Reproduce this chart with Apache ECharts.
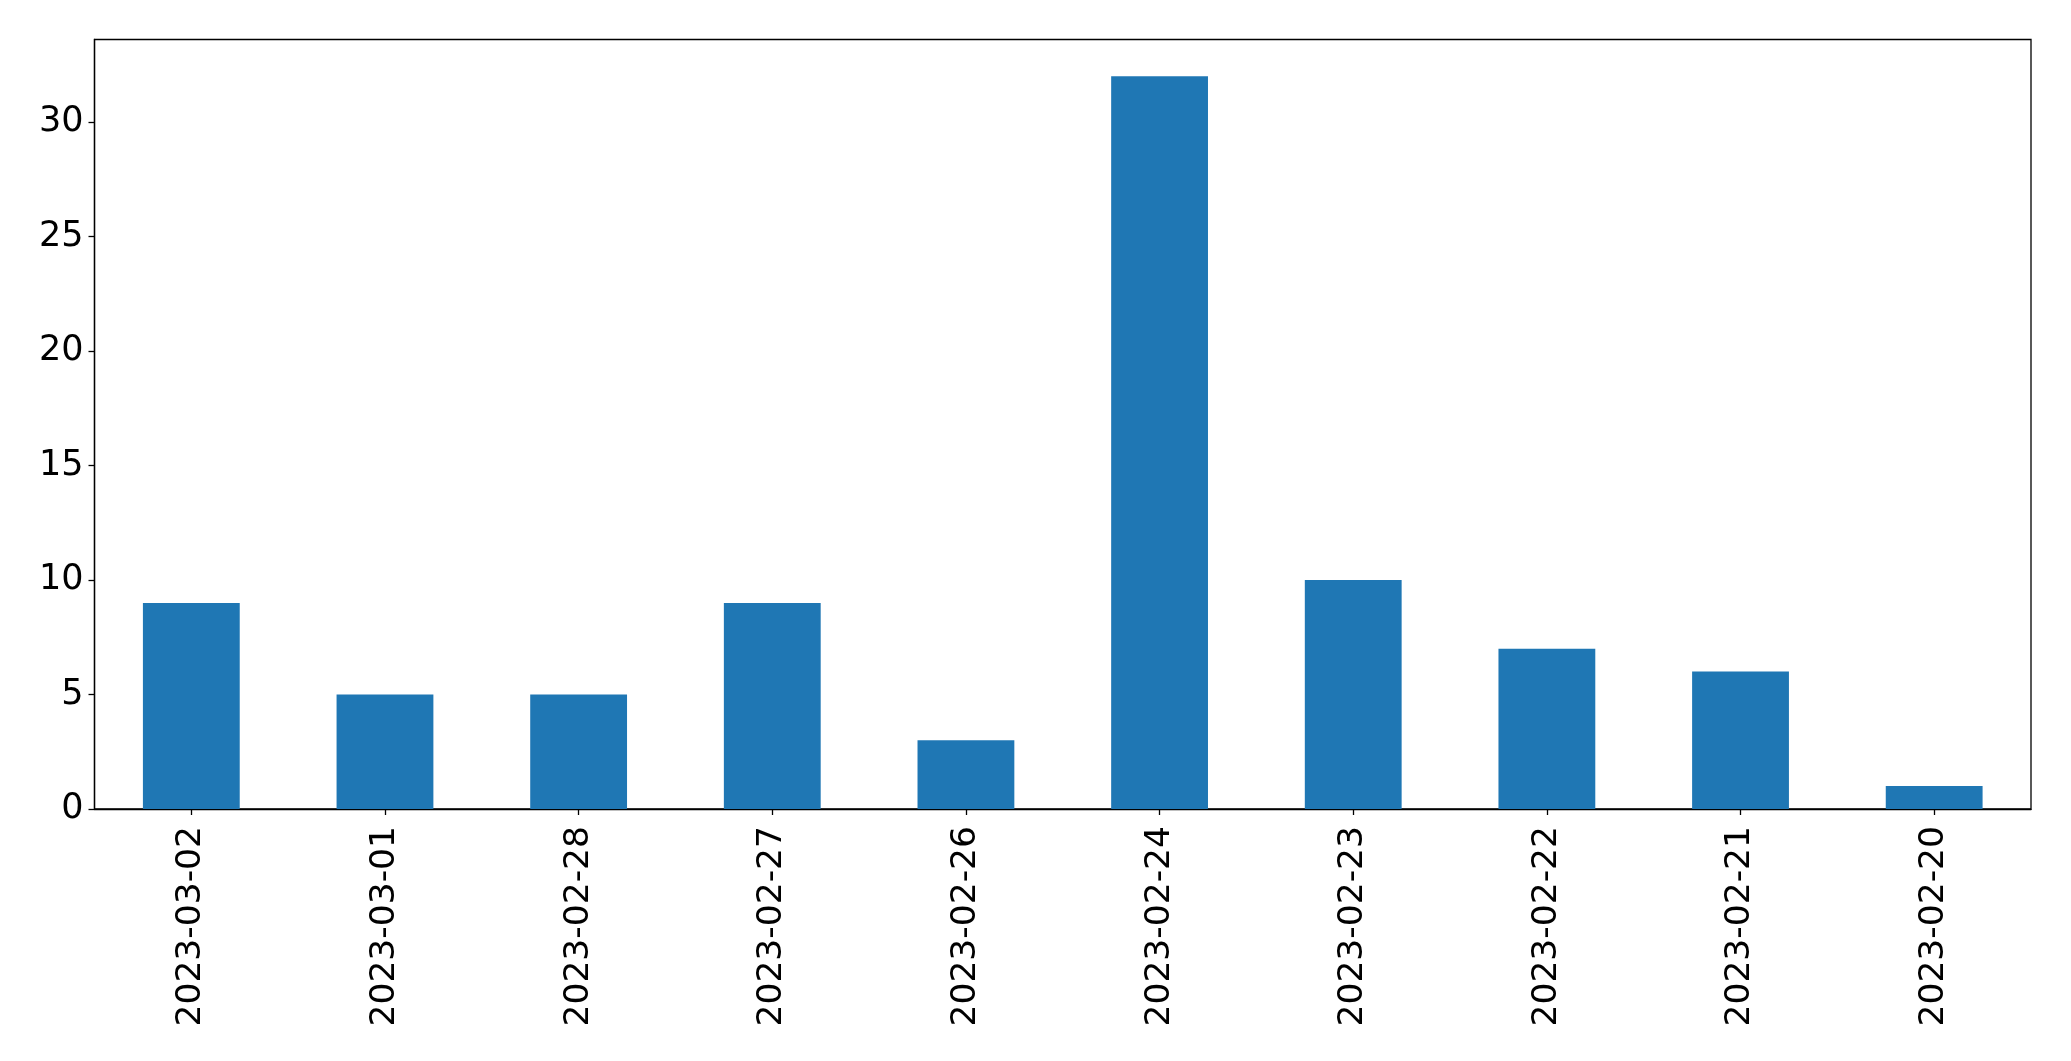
<!DOCTYPE html>
<html><head><meta charset="utf-8">
<script src="https://cdn.jsdelivr.net/npm/echarts@6/dist/echarts.min.js"></script>
<style>html,body{margin:0;padding:0;background:#fff}#c{width:2071px;height:1061px}</style>
</head><body><div id="c"></div>
<script>
const categories = ['2023-03-02','2023-03-01','2023-02-28','2023-02-27','2023-02-26','2023-02-24','2023-02-23','2023-02-22','2023-02-21','2023-02-20'];
const values = [9,5,5,9,3,32,10,7,6,1];
const yTicks = [0,5,10,15,20,25,30];

const chart = echarts.init(document.getElementById('c'), null, {renderer:'canvas'});
const font = 'DejaVu Sans';
chart.setOption({
  backgroundColor:'#fff',
  animation:false,
  grid:{left:94.5,right:40,top:39.5,bottom:252,show:true,borderColor:'#000',borderWidth:1.3,backgroundColor:'transparent'},
  xAxis:{type:'category',data:categories,boundaryGap:true,
    axisLine:{show:true,lineStyle:{color:'#000',width:1.3}},
    axisTick:{show:true,alignWithLabel:true,length:6,lineStyle:{color:'#000',width:1.3}},
    axisLabel:{rotate:90,margin:17,color:'#000',fontFamily:font,fontSize:34.5,interval:0},
    splitLine:{show:false}},
  yAxis:{type:'value',min:0,max:33.6,interval:5,
    axisLine:{show:true,lineStyle:{color:'#000',width:1.3}},
    axisTick:{show:true,length:6,lineStyle:{color:'#000',width:1.3}},
    axisLabel:{margin:11,color:'#000',fontFamily:font,fontSize:35,showMaxLabel:false,padding:[4,0,0,0],
      formatter:v=>yTicks.includes(v)?String(v):''},
    splitLine:{show:false}},
  series:[{type:'bar',data:values,barWidth:'50%',itemStyle:{color:'#1f77b4'}}]
});
</script></body></html>
